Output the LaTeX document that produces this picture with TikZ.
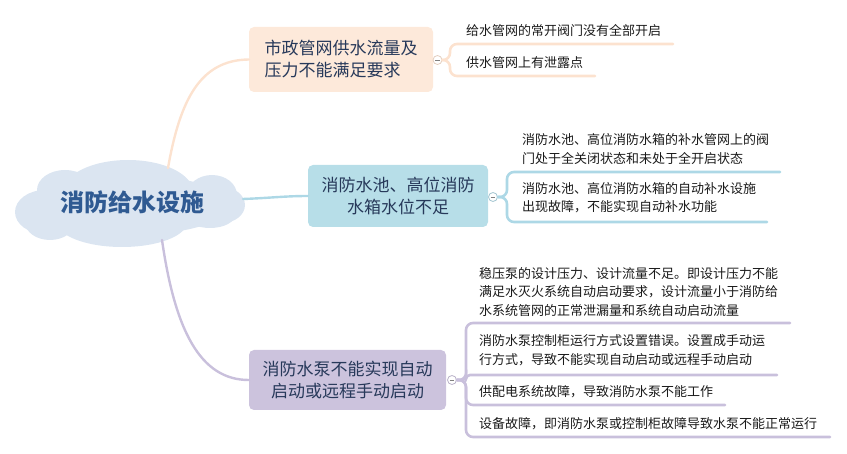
\documentclass[tikz,border=0pt]{standalone}
\usepackage{fontspec}
\newfontfamily\cjk{Noto Sans CJK SC}
\definecolor{cloudfill}{HTML}{DBE5F1}
\definecolor{cloudtext}{HTML}{2F5A92}
\definecolor{peach}{HTML}{FDE9DA}
\definecolor{peachline}{HTML}{FCE2CF}
\definecolor{sky}{HTML}{B7DEE8}
\definecolor{skyline}{HTML}{ADD8E6}
\definecolor{lav}{HTML}{CCC3DD}
\definecolor{lavline}{HTML}{C9C0DC}
\definecolor{boxtext}{HTML}{27395A}
\definecolor{leaftext}{HTML}{1A1A1A}
\tikzset{
  every node/.style={font=\cjk},
  mainbox/.style={rounded corners=5pt, inner sep=0pt, text=boxtext, font=\cjk\fontsize{17}{22}\selectfont},
  leaf/.style={anchor=west, align=left, inner sep=0pt, text=leaftext, font=\cjk\fontsize{13}{18.5}\selectfont},
  toggle/.style={circle, draw=#1, fill=white, line width=0.8pt, minimum size=9pt, inner sep=0pt},
  link/.style={line width=2.4pt, line cap=round},
  bracket/.style={line width=2.6pt, line cap=round, rounded corners=7pt},
}
\begin{document}
\begin{tikzpicture}[x=1pt,y=-1pt]
\useasboundingbox (0,0) rectangle (847,454);
% cloud
\begin{scope}[fill=cloudfill]
  \fill (130,205) ellipse [x radius=100, y radius=30];
  \fill (45,212) ellipse [x radius=30, y radius=22];
  \fill (65,190) ellipse [x radius=28, y radius=20];
  \fill (128,192) ellipse [x radius=65, y radius=32];
  \fill (212,195) ellipse [x radius=25, y radius=20];
  \fill (222,205) ellipse [x radius=23, y radius=18];
  \fill (210,215) ellipse [x radius=25, y radius=13];
  \fill (122,222) ellipse [x radius=65, y radius=25];
  \fill (50,222) ellipse [x radius=25, y radius=18];
\end{scope}
\node[font=\cjk\bfseries\fontsize{24}{28}\selectfont, text=cloudtext] (root) at (132,202) {消防给水设施};
\coordinate (r1) at (168,168);
\coordinate (r2) at (243,199);
\coordinate (r3) at (162,240);

% main boxes
\node[mainbox, fill=peach, minimum width=184pt, minimum height=65pt, align=left] (m1) at (341,59.5) {市政管网供水流量及\\压力不能满足要求};
\node[mainbox, fill=sky, minimum width=180pt, minimum height=62pt, align=center] (m2) at (398,196) {消防水池、高位消防\\水箱水位不足};
\node[mainbox, fill=lav, minimum width=197pt, minimum height=60pt, align=center] (m3) at (347.5,380) {消防水泵不能实现自动\\启动或远程手动启动};

% connectors from root
\draw[link, peachline] (r1) .. controls (180,100) and (200,60) .. (m1.west);
\draw[link, skyline] (r2) .. controls (270,198) and (285,196) .. (m2.west);
\draw[link, lavline] (r3) .. controls (175,330) and (200,380) .. (m3.west);

% toggles
\node[toggle=peachline!80!gray] (c1) at (437.5,60) {};
\node[toggle=skyline!80!gray] (c2) at (493,197) {};
\node[toggle=lavline!80!gray] (c3) at (452,380) {};
\foreach \c in {c1,c2,c3}{\draw[line width=0.7pt, gray] ([xshift=-2.3pt]\c.center) -- ([xshift=2.3pt]\c.center);}

% branch 1 leaves
\coordinate (b1) at (450,60);
\coordinate (u1a) at (673,44);
\coordinate (u1b) at (595,76);
\draw[bracket, peachline] (c1.east) -- (b1) |- (u1a);
\draw[bracket, peachline] (c1.east) -- (b1) |- (u1b);
\node[leaf] (l1a) at (466,31) {给水管网的常开阀门没有全部开启};
\node[leaf] (l1b) at (466,63) {供水管网上有泄露点};

% branch 2 leaves
\coordinate (b2) at (507,197);
\coordinate (u2a) at (780,172);
\coordinate (u2b) at (767,222);
\draw[bracket, skyline] (c2.east) -- (b2) |- (u2a);
\draw[bracket, skyline] (c2.east) -- (b2) |- (u2b);
\node[leaf] (l2a) at (522,149) {消防水池、高位消防水箱的补水管网上的阀\\门处于全关闭状态和未处于全开启状态};
\node[leaf] (l2b) at (522,197.5) {消防水池、高位消防水箱的自动补水设施\\出现故障，不能实现自动补水功能};

% branch 3 leaves
\coordinate (b3) at (466,380);
\coordinate (u3a) at (790,323);
\coordinate (u3b) at (777,375);
\coordinate (u3c) at (725,405);
\coordinate (u3d) at (830,437);
\draw[bracket, lavline] (c3.east) -- (b3) |- (u3a);
\draw[bracket, lavline, rounded corners=4pt] (c3.east) -- (b3) |- (u3b);
\draw[bracket, lavline] (c3.east) -- (b3) |- (u3c);
\draw[bracket, lavline] (c3.east) -- (b3) |- (u3d);
\node[leaf] (l3a) at (479,292) {稳压泵的设计压力、设计流量不足。即设计压力不能\\满足水灭火系统自动启动要求，设计流量小于消防给\\水系统管网的正常泄漏量和系统自动启动流量};
\node[leaf] (l3b) at (479,350) {消防水泵控制柜运行方式设置错误。设置成手动运\\行方式，导致不能实现自动启动或远程手动启动};
\node[leaf] (l3c) at (479,392) {供配电系统故障，导致消防水泵不能工作};
\node[leaf] (l3d) at (479,424) {设备故障，即消防水泵或控制柜故障导致水泵不能正常运行};
\end{tikzpicture}
\end{document}
